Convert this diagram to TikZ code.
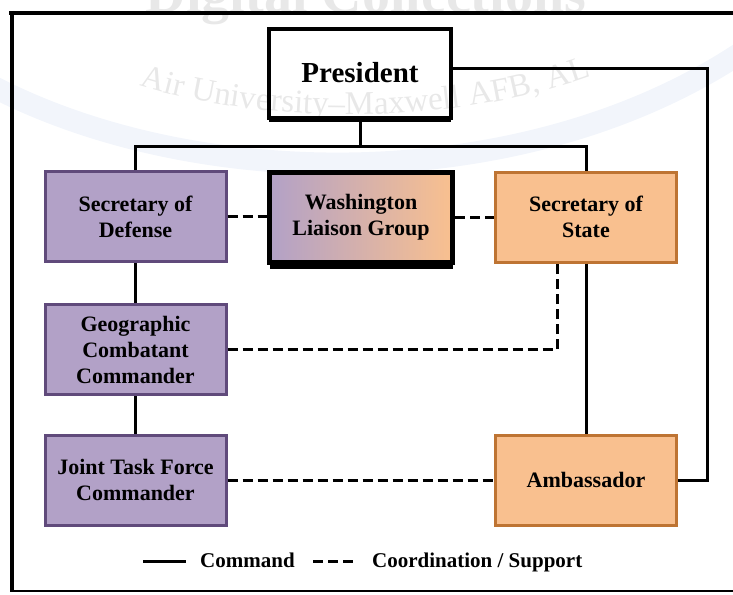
\documentclass[tikz,border=0pt]{standalone}
\usepackage{fontspec}
\setmainfont{Liberation Serif}
\usepackage{tikz}
\usetikzlibrary{shadows,decorations.text}
\definecolor{defpurple}{HTML}{B2A1C7}
\definecolor{defedge}{HTML}{604A7B}
\definecolor{statepeach}{HTML}{F9C08F}
\definecolor{stateedge}{HTML}{BE7433}
\definecolor{wmblue}{HTML}{F2F5FB}
\newcommand{\wmfont}{\fontsize{33}{33}\selectfont}
\tikzstyle{orgbox} = [rectangle, line width=3pt, minimum width=181pt, minimum height=90pt,
    align=center, inner sep=2pt, font=\fontsize{22}{26}\selectfont\bfseries]
\tikzstyle{defbox} = [orgbox, draw=defedge, fill=defpurple]
\tikzstyle{statebox} = [orgbox, draw=stateedge, fill=statepeach]
\tikzstyle{liaisonbox} = [orgbox, draw=black, line width=5pt, minimum width=183pt, minimum height=90pt,
    left color=defpurple, right color=statepeach,
    drop shadow={shadow xshift=0.5pt, shadow yshift=-6pt, fill=black, opacity=1}]
\tikzstyle{presbox} = [rectangle, draw=black, fill=white, line width=4pt, minimum width=182pt,
    minimum height=89pt, font=\fontsize{29}{32}\selectfont\bfseries,
    drop shadow={shadow xshift=0pt, shadow yshift=-4pt, fill=black, opacity=1}]
\tikzstyle{cmdline} = [draw=black, line width=3pt]
\tikzstyle{coordline} = [draw=black, line width=3pt, dash pattern=on 10pt off 5pt]
\tikzstyle{legendtext} = [anchor=base west, inner sep=0pt, font=\fontsize{21}{23}\selectfont\bfseries]

\begin{document}
\begin{tikzpicture}[x=1pt, y=-1pt]
                \useasboundingbox (0,0) rectangle (733,594);
                \draw[wmblue, line width=22pt] (-10,85) .. controls (200,195) and (530,195) .. (745,50);
                % frame
                \draw[line width=4pt] (9,13) -- (740,13);
                \draw[line width=3.5pt] (12,11) -- (12,592);
                \draw[line width=2pt] (10,591) -- (740,591);

                \node[presbox] (pres) at (360,73.5) {\raisebox{2pt}{President}};
                \node[defbox] (sdef) at (135.5,216.5) {Secretary of\\Defense};
                \node[liaisonbox] (wlg) at (361,217.5) {Washington\\Liaison Group};
                \node[statebox] (sstate) at (586,217) {Secretary of\\State};
                \node[defbox] (gcc) at (135.5,349.5) {Geographic\\Combatant\\Commander};
                \node[defbox] (jtf) at (135.5,480) {Joint Task Force\\Commander};
                \node[statebox] (amb) at (586,480) {Ambassador};

                \coordinate (bar) at (0,146);
                \coordinate (rside) at (707,0);
                \coordinate (dashx) at (557,0);

                \draw[cmdline] (pres.south) -- (pres.south |- bar);
                \draw[cmdline] (sdef.north) -- (sdef.north |- bar) -- (sstate.north |- bar) -- (sstate.north);
                \draw[cmdline] ([yshift=5pt]pres.east) -| (rside |- amb.east) -- (amb.east);
                \draw[cmdline] (sdef.south) -- (gcc.north);
                \draw[cmdline] (gcc.south) -- (jtf.north);
                \draw[cmdline] (sstate.south) -- (amb.north);

                \draw[coordline] (sdef.east) -- (sdef.east -| wlg.west);
                \draw[coordline] (wlg.east |- sstate.west) -- (sstate.west);
                \draw[coordline] (gcc.east) -| (sstate.south -| dashx);
                \draw[coordline] (jtf.east) -- (amb.west);

                % legend
                \coordinate (cmdA) at (143,561);
                \coordinate (cmdB) at (186,561);
                \coordinate (crdA) at (313,561);
                \coordinate (crdB) at (353,561);
                \draw[cmdline] (cmdA) -- (cmdB);
                \draw[coordline] (crdA) -- (crdB);
                \node[legendtext] (lgcmd) at (200,567) {Command};
                \node[legendtext] (lgcrd) at (372,567) {Coordination / Support};

                % faint stamp laid over the chart
                \begin{scope}[opacity=0.09]
                    \node[font=\fontsize{56}{56}\selectfont\bfseries, anchor=base] (wmtitle) at (366,13) {Digital Collections};
                    \path[decorate, decoration={text along path, text align=center, text color=black,
                        text={|\wmfont|Air University–Maxwell AFB, AL}}]
                        (112,76) .. controls (250,129) and (470,129) .. (618,66);
                \end{scope}
            \end{tikzpicture}
\end{document}
